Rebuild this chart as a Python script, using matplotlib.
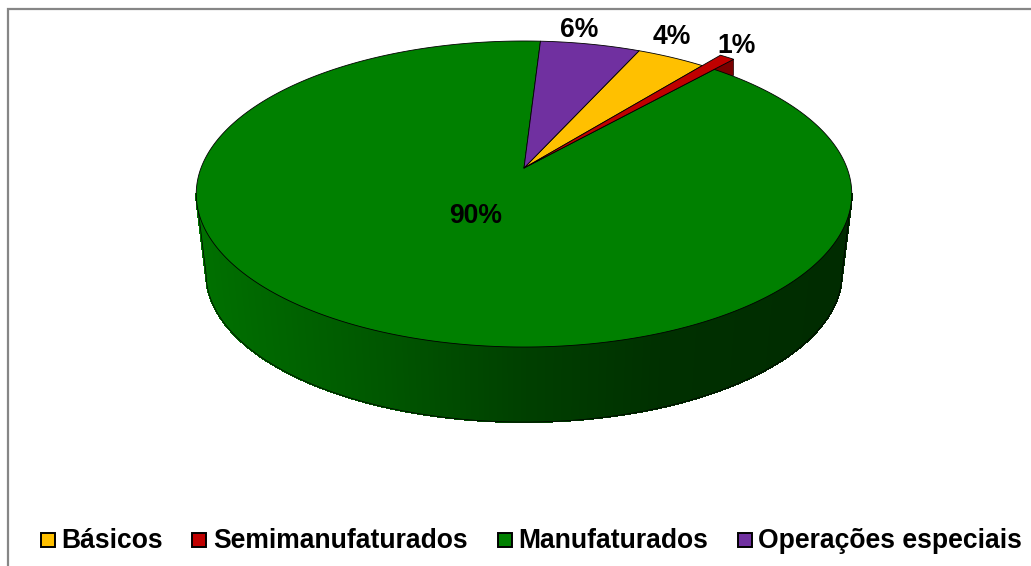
import numpy as np
import matplotlib
matplotlib.use('Agg')
import matplotlib.pyplot as plt
from matplotlib.collections import PolyCollection
from matplotlib.patches import Polygon, Rectangle

categories = ['Básicos', 'Semimanufaturados', 'Manufaturados', 'Operações especiais']
values = [4.0, 0.8, 89.4, 5.8]
pct_labels = ['4%', '1%', '90%', '6%']
colors = ['#FFC000', '#C00000', '#008000', '#7030A0']

plt.rcParams['font.family'] = ['Liberation Sans', 'DejaVu Sans']

W, H = 1031, 566
CX, CY = 524, 168   # apex of the slices in pixels
RX, RY = 323, 148.6
K = 0.17            # perspective
FIRST_ANGLE = 24.3  # clockwise from the top, where the first slice starts


def project(t_deg, r=1.0, bottom=False):
    t = np.radians(t_deg)
    x = r * np.sin(t)
    y = r * np.cos(t)
    w = 1 + K * y
    if bottom:
        return CX + 0.97 * RX * x / w, 248.4 - 0.97 * RY * y / w
    return CX + RX * x / w, CY - RY * y / w


def arc(t0, t1, r=1.0, bottom=False):
    ts = np.linspace(t0, t1, max(int(abs(t1 - t0) * 2), 4))
    xs, ys = project(ts, r, bottom)
    return np.column_stack([xs, ys])


fig = plt.figure(figsize=(W / 100, H / 100), dpi=100)
ax = fig.add_axes([0, 0, 1, 1])
ax.set_xlim(0, W)
ax.set_ylim(H, 0)
ax.axis('off')

# chart frame, only top and left are inside the picture
ax.plot([8, 8, W], [H, 9, 9], color='#868686', lw=1.6, solid_joinstyle='miter')

angles = np.array(values) / sum(values) * 360
starts = FIRST_ANGLE + np.concatenate([[0], np.cumsum(angles)[:-1]])
ends = starts + angles

# side wall of the big slice
shade_x = [197, 380, 524, 660, 852]
shade_g = [0.44, 0.34, 0.25, 0.19, 0.17]
ts = np.linspace(99.8, 260.2, 400)
quads = []
face = []
for a, b in zip(ts[:-1], ts[1:]):
    xa, ya = project(a)
    xb, yb = project(b)
    xc, yc = project(b, bottom=True)
    xd, yd = project(a, bottom=True)
    quads.append([(xa, ya), (xb, yb), (xc, yc), (xd, yd)])
    face.append((0, np.interp((xa + xb) / 2, shade_x, shade_g), 0))
ax.add_collection(PolyCollection(quads, facecolors=face, edgecolors=face, lw=0.8,
                                 antialiaseds=False, zorder=2))
outline = np.vstack([[project(99.8)], arc(99.8, 260.2, bottom=True), [project(260.2)]])
ax.plot(outline[:, 0], outline[:, 1], color='black', lw=0.5, zorder=3)

# dark inner face of the pulled out red slice
tx, ty = project(ends[1], 1.117)
ax.add_patch(Polygon([(CX, CY), (tx, ty), (tx, ty + 16), (CX, CY + 16)],
                     fc='#7A0000', ec='black', lw=0.4, zorder=3))

# top faces
order = [2, 0, 3, 1]
for i in order:
    r = 1.117 if i == 1 else 1.0
    pts = np.vstack([[(CX, CY)], arc(starts[i], ends[i], r)])
    ax.add_patch(Polygon(pts, closed=True, fc=colors[i], ec='black', lw=0.6,
                         joinstyle='round', zorder=4))

# percent labels
label_pos = [(672, 37), (737, 46), (476, 216), (579, 30)]
for txt, (x, y) in zip(pct_labels, label_pos):
    ax.text(x, y, txt, fontsize=19.1, fontweight='bold', ha='center', va='center', zorder=6)

# legend
swatch_x = [41, 192, 498, 738]
text_x = [61, 213, 518, 758]
for name, col, sx, tx_ in zip(categories, colors, swatch_x, text_x):
    ax.add_patch(Rectangle((sx, 533), 14, 14, fc=col, ec='black', lw=1.4, zorder=6))
    ax.text(tx_, 548, name, fontsize=19.1, fontweight='bold', ha='left', va='baseline', zorder=6)

fig.savefig('out.png', dpi=100, facecolor='white')
